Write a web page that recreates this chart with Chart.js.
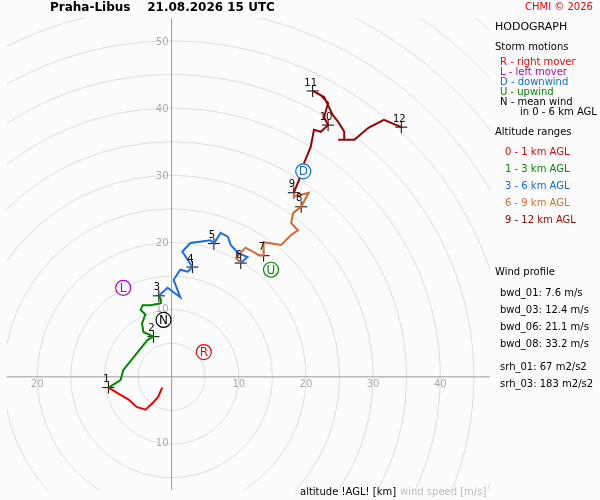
<!DOCTYPE html>
<html><head><meta charset="utf-8">
<script src="https://cdn.jsdelivr.net/npm/chart.js@4"></script>
<style>
body{margin:0;background:#fff;font-family:"DejaVu Sans",sans-serif}
#wrap{position:relative;width:600px;height:500px;background:#fcfcfc}
.t{position:absolute;font-size:10px;white-space:nowrap}
</style></head><body>
<div id="wrap"><canvas id="c" width="600" height="500"></canvas>
<div class="t" style="left:50px;top:0px;font-weight:bold;font-size:12px">Praha-Libus &nbsp;&nbsp; 21.08.2026 15 UTC</div>
<div class="t" style="left:525px;top:1px;color:#e00;font-size:10px">CHMI © 2026</div>
<div class="t" style="left:495px;top:20px;font-size:11px">HODOGRAPH</div>
<div class="t" style="left:495px;top:41px">Storm motions</div>
<div class="t" style="left:500px;top:56px;color:#e00">R - right mover</div>
<div class="t" style="left:500px;top:66px;color:#b0b">L - left mover</div>
<div class="t" style="left:500px;top:76px;color:#16d">D - downwind</div>
<div class="t" style="left:500px;top:86px;color:#080">U - upwind</div>
<div class="t" style="left:500px;top:96px">N - mean wind</div>
<div class="t" style="left:520px;top:106px">in 0 - 6 km AGL</div>
<div class="t" style="left:495px;top:126px">Altitude ranges</div>
<div class="t" style="left:505px;top:146px;color:#e00">0 - 1 km AGL</div>
<div class="t" style="left:505px;top:163px;color:#080">1 - 3 km AGL</div>
<div class="t" style="left:505px;top:180px;color:#16d">3 - 6 km AGL</div>
<div class="t" style="left:505px;top:197px;color:#d06a30">6 - 9 km AGL</div>
<div class="t" style="left:505px;top:214px;color:#900">9 - 12 km AGL</div>
<div class="t" style="left:495px;top:266px">Wind profile</div>
<div class="t" style="left:500px;top:287px">bwd_01: 7.6 m/s</div>
<div class="t" style="left:500px;top:304px">bwd_03: 12.4 m/s</div>
<div class="t" style="left:500px;top:321px">bwd_06: 21.1 m/s</div>
<div class="t" style="left:500px;top:338px">bwd_08: 33.2 m/s</div>
<div class="t" style="left:500px;top:361px">srh_01: 67 m2/s2</div>
<div class="t" style="left:500px;top:378px">srh_03: 183 m2/s2</div>
<div class="t" style="left:300px;top:486px;font-size:10px">altitude !AGL! [km]</div>
<div class="t" style="left:400px;top:486px;font-size:10px;color:#bbb">wind speed [m/s]</div>
</div>
<script>
const seg01 = [[-1.4,-1.6],[-2.0,-3.0],[-2.8,-3.9],[-3.9,-4.9],[-5.2,-4.5],[-6.4,-3.4],[-7.6,-2.7],[-9.4,-1.6]];
const seg13 = [[-9.4,-1.6],[-7.6,-0.5],[-7.2,1.0],[-6.0,2.5],[-4.8,4.0],[-3.6,5.5],[-2.7,6.0],[-4.2,6.7],[-4.4,8.0],[-3.9,9.3],[-4.6,10.0],[-4.3,10.7],[-3.1,10.7],[-1.6,11.0],[-1.6,11.6],[-1.9,12.1]];
const seg36 = [[-1.9,12.1],[-0.6,13.3],[1.3,11.9],[0.3,14.5],[1.3,16.0],[2.4,15.7],[3.1,16.4],[1.6,18.7],[2.8,20.0],[5.8,20.4],[6.3,19.9],[7.3,21.5],[8.4,20.9],[8.8,19.7],[9.9,18.5],[11.3,17.9],[10.3,17.0]];
const seg69 = [[10.3,17.0],[9.6,17.8],[11.0,19.3],[13.0,18.2],[13.7,18.1],[13.7,20.1],[16.3,19.7],[17.8,21.2],[18.8,21.9],[17.8,23.0],[18.1,24.5],[19.3,25.4],[20.4,27.5],[18.2,26.9],[18.2,27.5]];
const seg912 = [[18.2,27.5],[19.0,29.5],[19.7,31.9],[20.7,34.3],[21.2,36.9],[22.2,36.6],[23.3,37.6],[22.7,38.8],[23.3,40.9],[22.2,42.1],[21.0,42.7],[22.7,41.8],[24.0,39.1],[24.8,38.1],[25.7,36.6],[25.7,35.4],[24.8,35.4],[27.2,35.4],[29.3,37.2],[31.6,38.4],[34.2,37.3]];
const kmLabels = ["1","2","3","4","5","6","7","8","9","10","11","12"];
const kmPoints = [[-9.4,-1.6],[-2.7,6.0],[-1.9,12.1],[3.1,16.4],[6.3,19.9],[10.3,17.0],[13.7,18.1],[19.3,25.4],[18.2,27.5],[23.3,37.6],[21.0,42.7],[34.2,37.3]];
const stormLabels = ["R","L","D","U","N"];
const stormPoints = [[4.8,3.7],[-7.2,13.3],[19.6,30.7],[14.8,16.0],[-1.2,8.5]];
const stormColors = ["#e00","#b0b","#16d","#080","#000"];
const ringRadii = [5,10,15,20,25,30,35,40,45,50,55,60,65,70];
const xTicks = [-20,10,20,30,40];
const yTicks = [-10,10,20,30,40,50];

const xy = a => a.map(p => ({x:p[0], y:p[1]}));
const line = (d,c) => ({data:xy(d), borderColor:c, showLine:true, pointRadius:0, borderWidth:2, tension:0});

const deco = {
  id:'deco',
  beforeDatasetsDraw(ch){
    const {ctx, chartArea:a, scales:{x,y}} = ch;
    const ox = x.getPixelForValue(0), oy = y.getPixelForValue(0);
    const k = x.getPixelForValue(1) - ox;
    ctx.save();
    ctx.beginPath(); ctx.rect(a.left,a.top,a.width,a.height); ctx.clip();
    ctx.strokeStyle = '#ddd'; ctx.lineWidth = 1;
    ringRadii.forEach(r => { ctx.beginPath(); ctx.arc(ox,oy,r*k,0,2*Math.PI); ctx.stroke(); });
    ctx.strokeStyle = '#999';
    ctx.beginPath(); ctx.moveTo(a.left,oy); ctx.lineTo(a.right,oy); ctx.moveTo(ox,a.top); ctx.lineTo(ox,a.bottom); ctx.stroke();
    ctx.fillStyle = '#aaa'; ctx.font = '10px "DejaVu Sans"';
    ctx.textAlign = 'center'; ctx.textBaseline = 'top';
    xTicks.forEach(v => ctx.fillText(String(Math.abs(v)), x.getPixelForValue(v), oy + 3));
    ctx.textAlign = 'right'; ctx.textBaseline = 'middle';
    yTicks.forEach(v => ctx.fillText(String(Math.abs(v)), ox - 3, y.getPixelForValue(v)));
    ctx.restore();
  },
  afterDatasetsDraw(ch){
    const {ctx, scales:{x,y}} = ch;
    ctx.save();
    ctx.font = '10px "DejaVu Sans"'; ctx.fillStyle = '#000';
    ctx.textAlign = 'center'; ctx.textBaseline = 'bottom';
    kmPoints.forEach((p,i) => ctx.fillText(kmLabels[i], x.getPixelForValue(p[0]) - 2, y.getPixelForValue(p[1]) - 3));
    ctx.font = '12px "DejaVu Sans"'; ctx.textBaseline = 'middle';
    stormPoints.forEach((p,i) => {
      const px = x.getPixelForValue(p[0]), py = y.getPixelForValue(p[1]);
      ctx.fillStyle = '#fff'; ctx.strokeStyle = stormColors[i]; ctx.lineWidth = 1.2;
      ctx.beginPath(); ctx.arc(px,py,7.5,0,2*Math.PI); ctx.fill(); ctx.stroke();
      ctx.fillStyle = stormColors[i]; ctx.fillText(stormLabels[i], px, py + 1);
    });
    ctx.restore();
  }
};

new Chart(document.getElementById('c'), {
  type:'scatter',
  data:{datasets:[
    line(seg01,'#e00'), line(seg13,'#080'), line(seg36,'#1a6ee0'), line(seg69,'#d06a30'), line(seg912,'#900'),
    {data:xy(kmPoints), pointStyle:'cross', pointRadius:6, borderColor:'#000', borderWidth:1, backgroundColor:'#000'}
  ]},
  options:{
    responsive:false, animation:false,
    layout:{padding:{left:0,right:110,top:18,bottom:10}},
    plugins:{legend:{display:false}, tooltip:{enabled:false}},
    scales:{
      x:{type:'linear', min:-24.5, max:47.4, display:false},
      y:{type:'linear', min:-16.9, max:53.6, display:false}
    }
  },
  plugins:[deco]
});
</script></body></html>
